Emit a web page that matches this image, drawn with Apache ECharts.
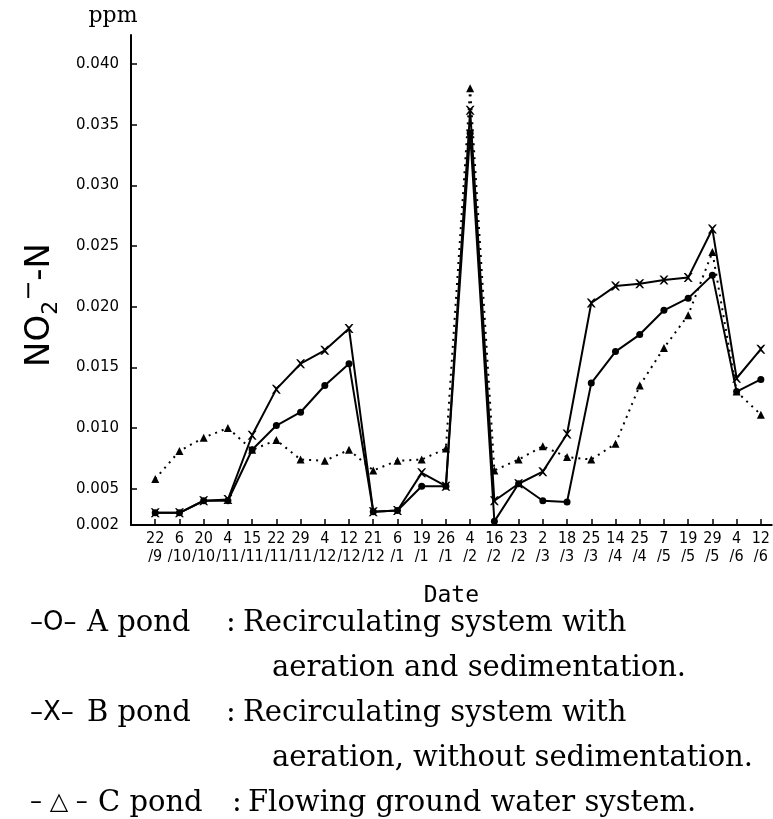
<!DOCTYPE html>
<html>
<head>
<meta charset="utf-8">
<script src="https://cdn.jsdelivr.net/npm/echarts@6/dist/echarts.min.js"></script>
<style>
  html, body { margin: 0; padding: 0; background: #fff; }
  #chart { width: 773px; height: 819px; }
</style>
</head>
<body>
<div id="chart"></div>
<script>
// ---- data ----
const dateDays   = ['22','6','20','4','15','22','29','4','12','21','6','19','26','4','16','23','2','18','25','14','25','7','19','29','4','12'];
const dateMonths = ['9','10','10','11','11','11','11','12','12','12','1','1','1','2','2','2','3','3','3','4','4','5','5','5','6','6'];
const pondA = [0.0030,0.0030,0.0040,0.0040,0.0082,0.0102,0.0113,0.0135,0.0153,0.0031,0.0032,0.0052,0.0052,0.0343,0.0023,0.0054,0.0040,0.0039,0.0137,0.0163,0.0177,0.0197,0.0207,0.0226,0.0130,0.0140];
const pondB = [0.0030,0.0030,0.0040,0.0041,0.0094,0.0132,0.0153,0.0164,0.0182,0.0031,0.0032,0.0063,0.0052,0.0362,0.0040,0.0054,0.0064,0.0095,0.0203,0.0217,0.0219,0.0222,0.0224,0.0264,0.0141,0.0165];
const pondC = [0.0058,0.0081,0.0092,0.0100,0.0082,0.0090,0.0074,0.0073,0.0082,0.0065,0.0073,0.0074,0.0083,0.0380,0.0065,0.0074,0.0085,0.0076,0.0074,0.0087,0.0135,0.0166,0.0193,0.0245,0.0130,0.0111];
const yTickValues = [0.002,0.005,0.010,0.015,0.020,0.025,0.030,0.035,0.040];
const yUnit = 'ppm';
const xTitle = 'Date';
const legendRows = [
  ['–O–', 'A pond', ':', 'Recirculating system with'],
  ['', '', '', 'aeration and sedimentation.'],
  ['–X–', 'B pond', ':', 'Recirculating system with'],
  ['', '', '', 'aeration, without sedimentation.'],
  ['– △ –', 'C pond', ':', 'Flowing ground water system.']
];

// ---- build ----
const xIdx = dateDays.map((d, i) => i + 1);
const toPairs = arr => arr.map((v, i) => [xIdx[i], v]);

const chart = echarts.init(document.getElementById('chart'), null, { renderer: 'canvas' });

const legendGraphics = [];
const rowY = [623, 668, 713, 758, 803];
legendRows.forEach((row, r) => {
  const xs = r === 4 ? [30, 98, 232, 248] : [30, 87, 226, 243];
  row.forEach((t, c) => {
    if (!t) return;
    let x = xs[c];
    if (c === 3 && (r === 1 || r === 3)) x = 272;
    const isSym = c === 0;
    legendGraphics.push({
      type: 'text', left: x, top: 'auto', y: rowY[r],
      style: {
        text: t,
        fontSize: isSym ? (r === 4 ? 24 : 26) : 29,
        fontFamily: isSym ? 'DejaVu Sans' : 'DejaVu Serif',
        verticalAlign: 'middle',
        fill: '#000'
      }
    });
  });
});

const option = {
  backgroundColor: '#fff',
  animation: false,
  grid: { left: 131, right: 1, top: 35, bottom: 294, containLabel: false },
  xAxis: {
    type: 'value', min: 0, max: 26.45,
    name: xTitle, nameLocation: 'middle', nameGap: 60,
    nameTextStyle: { fontFamily: '"DejaVu Sans Mono", "Liberation Mono", monospace', fontSize: 23, color: '#000' },
    axisLine: { show: true, onZero: false, lineStyle: { color: '#000', width: 2 } },
    axisTick: { show: true, inside: true, length: 6, customValues: xIdx, lineStyle: { color: '#000', width: 1.5 } },
    splitLine: { show: false },
    axisLabel: {
      customValues: xIdx, margin: 5, color: '#000',
      formatter: v => {
        const i = Math.round(v) - 1;
        if (i < 0 || i >= dateDays.length) return '';
        return '{d|' + dateDays[i] + '}\n{m|/' + dateMonths[i] + '}';
      },
      rich: {
        d: { fontFamily: '"DejaVu Sans Condensed", "DejaVu Sans", sans-serif', fontSize: 16, lineHeight: 18, color: '#000' },
        m: { fontFamily: '"DejaVu Sans Condensed", "DejaVu Sans", sans-serif', fontSize: 16, lineHeight: 18, color: '#000' }
      }
    }
  },
  yAxis: {
    type: 'value', min: 0.002, max: 0.0424,
    name: yUnit, nameLocation: 'end', nameGap: 8,
    nameTextStyle: { fontFamily: '"DejaVu Serif", "Liberation Serif", serif', fontSize: 22, color: '#000', align: 'center', padding: [0, 36, 0, 0] },
    axisLine: { show: true, lineStyle: { color: '#000', width: 2 } },
    axisTick: { show: true, inside: true, length: 6, customValues: yTickValues, lineStyle: { color: '#000', width: 1.5 } },
    splitLine: { show: false },
    axisLabel: {
      customValues: yTickValues, margin: 12, color: '#000',
      fontFamily: '"DejaVu Sans", sans-serif', fontSize: 15,
      formatter: v => v.toFixed(3)
    }
  },
  series: [
    {
      name: 'A pond', type: 'line', data: toPairs(pondA),
      symbol: 'circle', symbolSize: 7,
      itemStyle: { color: '#000' },
      lineStyle: { color: '#000', width: 2 }
    },
    {
      name: 'B pond', type: 'line', data: toPairs(pondB),
      symbol: 'path://M0,0L2,0L5,3L8,0L10,0L6,5L10,10L8,10L5,7L2,10L0,10L4,5Z', symbolSize: 9,
      itemStyle: { color: '#000' },
      lineStyle: { color: '#000', width: 2 }
    },
    {
      name: 'C pond', type: 'line', data: toPairs(pondC),
      symbol: 'triangle', symbolSize: 8,
      itemStyle: { color: '#000' },
      lineStyle: { color: '#000', width: 2, type: [2, 5] }
    }
  ],
  graphic: [
    {
      type: 'text', x: 40, y: 305, rotation: Math.PI / 2,
      style: {
        text: '{n|NO}{s|2}{p|−}{n|-N}',
        align: 'center', verticalAlign: 'middle',
        rich: {
          n: { fontFamily: '"DejaVu Sans", sans-serif', fontSize: 34, lineHeight: 44, fill: '#000', verticalAlign: 'middle' },
          s: { fontFamily: '"DejaVu Sans", sans-serif', fontSize: 22, lineHeight: 44, fill: '#000', verticalAlign: 'bottom' },
          p: { fontFamily: '"DejaVu Sans", sans-serif', fontSize: 24, lineHeight: 44, fill: '#000', verticalAlign: 'top' }
        }
      }
    }
  ].concat(legendGraphics)
};

chart.setOption(option);
</script>
</body>
</html>
